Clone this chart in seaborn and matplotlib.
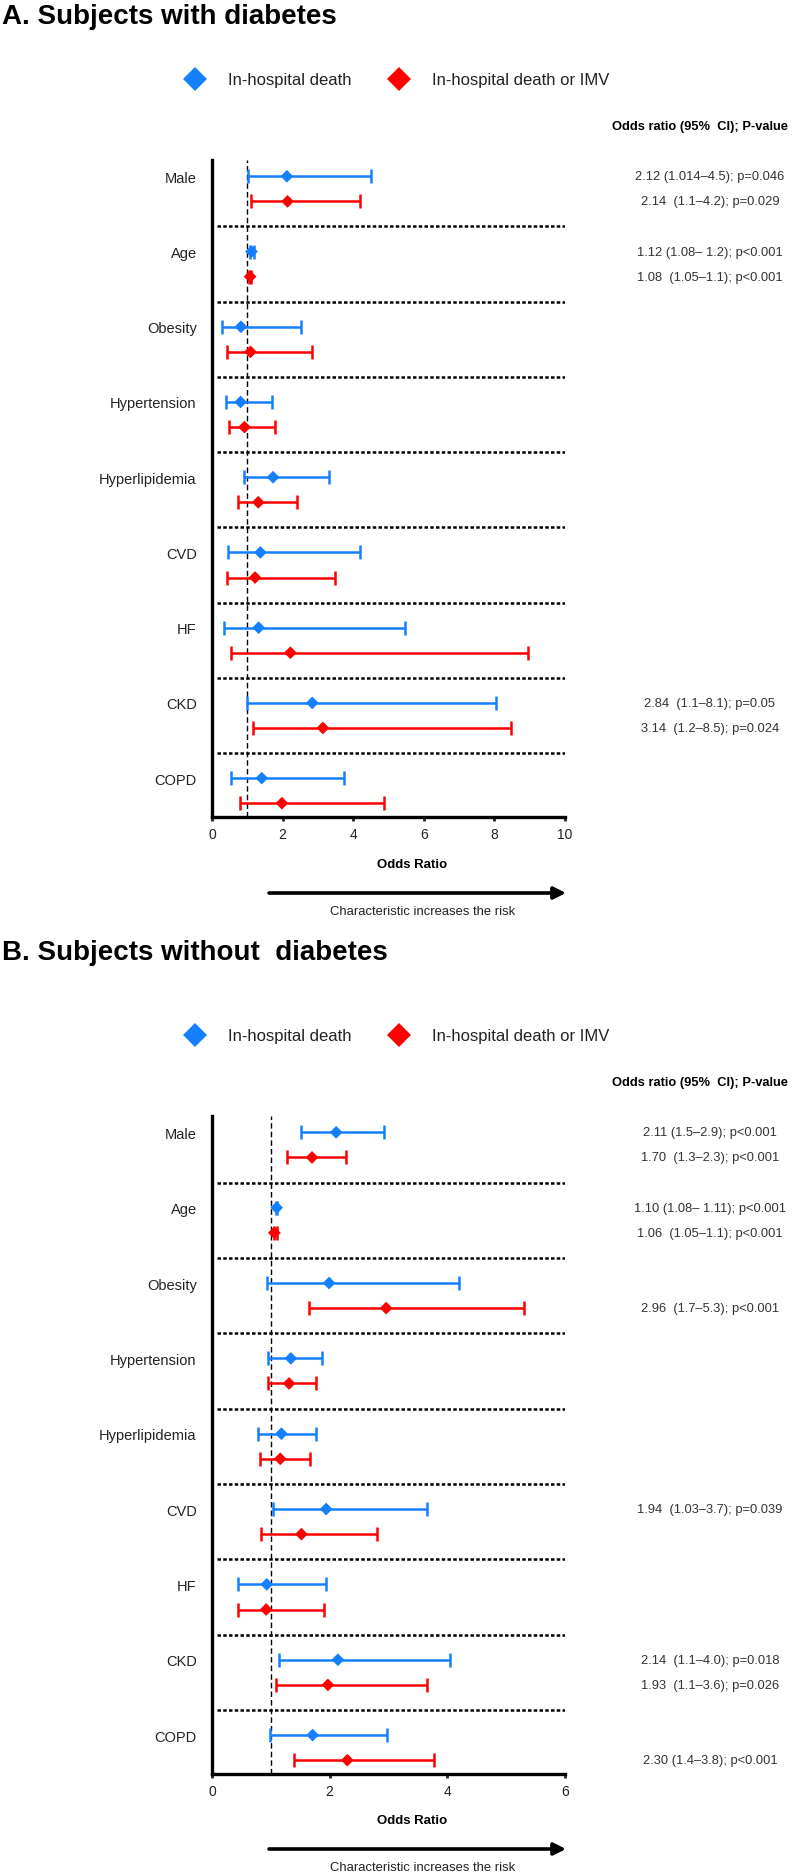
import numpy as np
import pandas as pd
import matplotlib
matplotlib.use('Agg')
import matplotlib.pyplot as plt
from matplotlib.lines import Line2D
from matplotlib.transforms import blended_transform_factory
import seaborn as sns

# Categories (same for both panels)
categories = ['Male', 'Age', 'Obesity', 'Hypertension', 'Hyperlipidemia',
              'CVD', 'HF', 'CKD', 'COPD']
series_names = ['In-hospital death', 'In-hospital death or IMV']

# Panel A: subjects with diabetes
death_or_a = [2.12, 1.12, 0.82, 0.81, 1.73, 1.37, 1.32, 2.84, 1.41]
death_lo_a = [1.01, 1.08, 0.27, 0.40, 0.92, 0.44, 0.33, 0.98, 0.54]
death_hi_a = [4.50, 1.20, 2.52, 1.71, 3.32, 4.19, 5.47, 8.05, 3.74]
imv_or_a = [2.14, 1.08, 1.09, 0.92, 1.31, 1.22, 2.22, 3.14, 1.98]
imv_lo_a = [1.10, 1.05, 0.42, 0.47, 0.73, 0.42, 0.54, 1.16, 0.79]
imv_hi_a = [4.20, 1.10, 2.83, 1.78, 2.41, 3.48, 8.95, 8.47, 4.88]

# Panel B: subjects without diabetes
death_or_b = [2.11, 1.10, 1.99, 1.34, 1.18, 1.94, 0.93, 2.14, 1.71]
death_lo_b = [1.52, 1.08, 0.94, 0.95, 0.78, 1.04, 0.44, 1.14, 0.98]
death_hi_b = [2.93, 1.11, 4.19, 1.87, 1.77, 3.65, 1.94, 4.04, 2.98]
imv_or_b = [1.70, 1.06, 2.96, 1.31, 1.16, 1.52, 0.92, 1.97, 2.30]
imv_lo_b = [1.28, 1.05, 1.65, 0.95, 0.82, 0.83, 0.44, 1.09, 1.39]
imv_hi_b = [2.28, 1.10, 5.30, 1.77, 1.67, 2.81, 1.90, 3.66, 3.78]

# Right-hand annotations: category, series (0 = death, 1 = death or IMV), text
ann_a_cat = ['Male', 'Male', 'Age', 'Age', 'CKD', 'CKD']
ann_a_series = [0, 1, 0, 1, 0, 1]
ann_a_text = ['2.12 (1.014\u20134.5); p=0.046', '2.14  (1.1\u20134.2); p=0.029',
              '1.12 (1.08\u2013 1.2); p<0.001', '1.08  (1.05\u20131.1); p<0.001',
              '2.84  (1.1\u20138.1); p=0.05', '3.14  (1.2\u20138.5); p=0.024']

ann_b_cat = ['Male', 'Male', 'Age', 'Age', 'Obesity', 'CVD', 'CKD', 'CKD', 'COPD']
ann_b_series = [0, 1, 0, 1, 1, 0, 0, 1, 1]
ann_b_text = ['2.11 (1.5\u20132.9); p<0.001', '1.70  (1.3\u20132.3); p<0.001',
              '1.10 (1.08\u2013 1.11); p<0.001', '1.06  (1.05\u20131.1); p<0.001',
              '2.96  (1.7\u20135.3); p<0.001', '1.94  (1.03\u20133.7); p=0.039',
              '2.14  (1.1\u20134.0); p=0.018', '1.93  (1.1\u20133.6); p=0.026',
              '2.30 (1.4\u20133.8); p<0.001']

titles = ['A. Subjects with diabetes', 'B. Subjects without  diabetes']
xticks_a = [0, 2, 4, 6, 8, 10]
xticks_b = [0, 2, 4, 6]

colors = ['#1580FF', '#FF0000']

sns.set_style('white')
plt.rcParams['font.family'] = ['Liberation Sans', 'DejaVu Sans']
narrow = ['Liberation Sans Narrow', 'Liberation Sans', 'DejaVu Sans']
txt_color = '#222222'

W, H = 794, 1874
fig = plt.figure(figsize=(W / 100, H / 100), dpi=100)


def fy(px):
    return 1 - px / H


def build_frame(o1, l1, h1, o2, l2, h2):
    rows = []
    for i, c in enumerate(categories):
        rows.append(dict(cat=c, series=series_names[0], pos=3 * i,
                         orr=o1[i], lo=l1[i], hi=h1[i]))
        rows.append(dict(cat=c, series=series_names[1], pos=3 * i + 1,
                         orr=o2[i], lo=l2[i], hi=h2[i]))
    return pd.DataFrame(rows)


def draw_panel(ax, df, xmax, xticks, ann_cat, ann_series, ann_text, off, title_y):
    # confidence intervals
    for k, name in enumerate(series_names):
        d = df[df['series'] == name]
        ax.errorbar(d['orr'], d['pos'], xerr=[d['orr'] - d['lo'], d['hi'] - d['orr']],
                    fmt='none', ecolor=colors[k], elinewidth=1.8, capsize=4.7,
                    capthick=1.8, zorder=3)
    sns.scatterplot(data=df, x='orr', y='pos', hue='series', palette=colors,
                    marker='D', s=42, edgecolor='none', legend=False, ax=ax, zorder=4)

    # separators between categories
    for i in range(len(categories) - 1):
        ax.axhline(3 * i + 2, xmin=0.015, xmax=1, color='black', lw=1.8,
                   ls=(0, (1.4, 0.9)), zorder=1)
    ax.axvline(1, color='black', lw=1.0, ls=(0, (4, 2.2)), zorder=2)

    ax.set_xlim(0, xmax)
    ax.set_ylim(25.55, -0.65)
    ax.set_xticks(xticks)
    ax.set_xticklabels([str(t) for t in xticks], fontsize=10, color=txt_color)
    ax.set_yticks([3 * i for i in range(len(categories))])
    ax.set_yticklabels(categories, fontsize=10.5, color=txt_color)
    ax.tick_params(axis='y', length=0, pad=11)
    ax.tick_params(axis='x', length=3, width=2, pad=4, direction='out', bottom=True)
    ax.set_xlabel('')
    ax.set_ylabel('')
    for s in ['top', 'right']:
        ax.spines[s].set_visible(False)
    for s in ['left', 'bottom']:
        ax.spines[s].set_linewidth(2.4)
        ax.spines[s].set_color('black')

    # annotations on the right
    tr = blended_transform_factory(fig.transFigure, ax.transData)
    for c, s, t in zip(ann_cat, ann_series, ann_text):
        y = 3 * categories.index(c) + s
        ax.text(710 / W, y, t, transform=tr, ha='center', va='center',
                fontsize=9.3, color='#333333', clip_on=False)

    fig.text(700 / W, fy(127 + off), 'Odds ratio (95%  CI); P-value', ha='center',
             va='center', fontsize=9.3, fontweight='bold', color='black')
    fig.text(412 / W, fy(865 + off), 'Odds Ratio', ha='center', va='center',
             fontsize=9.5, fontweight='bold', color='black')
    ax.annotate('', xy=(566 / W, fy(894 + off)), xytext=(269 / W, fy(894 + off)),
                xycoords='figure fraction', textcoords='figure fraction',
                arrowprops=dict(arrowstyle='-|>', lw=2.6, color='black',
                                mutation_scale=18, shrinkA=0, shrinkB=0))
    fig.text(423 / W, fy(912 + off), 'Characteristic increases the risk', ha='center',
             va='center', fontsize=9.4, color=txt_color, family=narrow)
    fig.text(2 / W, fy(title_y), titles[0 if off == 0 else 1], ha='left', va='center',
             fontsize=20, fontweight='bold', color='black', family=narrow)

    handles = [Line2D([], [], marker='D', ls='none', color=colors[k], ms=12.5,
                      markeredgewidth=0) for k in range(2)]
    leg = fig.legend(handles, series_names, loc='center left', ncol=2,
                     bbox_to_anchor=(186.7 / W, fy(81 + off)), frameon=False,
                     borderpad=0, borderaxespad=0, handlelength=1.0,
                     handletextpad=1.47, columnspacing=2.38,
                     prop={'family': narrow, 'size': 12})
    for t in leg.get_texts():
        t.set_color(txt_color)


ax_a = fig.add_axes([212 / W, fy(818), 353 / W, 657 / H])
ax_b = fig.add_axes([212 / W, fy(1775), 353 / W, 658 / H])

df_a = build_frame(death_or_a, death_lo_a, death_hi_a, imv_or_a, imv_lo_a, imv_hi_a)
df_b = build_frame(death_or_b, death_lo_b, death_hi_b, imv_or_b, imv_lo_b, imv_hi_b)

draw_panel(ax_a, df_a, 10, xticks_a, ann_a_cat, ann_a_series, ann_a_text, 0, 17)
draw_panel(ax_b, df_b, 6, xticks_b, ann_b_cat, ann_b_series, ann_b_text, 956, 953)

fig.savefig('out.png', dpi=100)
